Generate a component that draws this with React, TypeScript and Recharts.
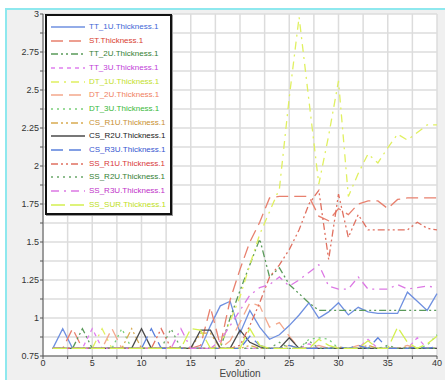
import React from 'react';
import { LineChart, Line, XAxis, YAxis, CartesianGrid, Legend } from 'recharts';

const evolution = [1, 2, 3, 4, 5, 6, 7, 8, 9, 10, 11, 12, 13, 14, 15, 16, 17, 18, 19, 20, 21, 22, 23, 24, 25, 26, 27, 28, 29, 30, 31, 32, 33, 34, 35, 36, 37, 38, 39, 40];

const tt1u = [0.8, 0.93, 0.8, 0.8, 0.8, 0.8, 0.8, 0.8, 0.8, 0.8, 0.8, 0.8, 0.8, 0.8, 0.8, 0.8, 0.95, 1.08, 1.11, 0.9, 1.05, 0.94, 0.86, 0.89, 0.95, 1.02, 1.1, 1.0, 1.04, 1.1, 1.02, 1.07, 1.04, 1.03, 1.03, 1.03, 1.17, 1.11, 1.05, 1.16];
const st = [0.8, 0.8, 0.93, 0.8, 0.8, 0.8, 0.8, 0.8, 0.8, 0.8, 0.8, 0.8, 0.8, 0.8, 0.8, 0.82, 1.07, 0.82, 1.12, 1.32, 1.5, 1.63, 1.79, 1.8, 1.8, 1.8, 1.8, 1.67, 1.64, 1.72, 1.68, 1.75, 1.77, 1.77, 1.72, 1.78, 1.79, 1.79, 1.79, 1.79];
const tt2u = [0.8, 0.8, 0.8, 0.93, 0.8, 0.8, 0.8, 0.8, 0.8, 0.8, 0.8, 0.8, 0.8, 0.8, 0.8, 0.8, 0.8, 0.8, 1.0, 1.18, 1.35, 1.52, 1.27, 1.33, 1.22, 1.16, 1.1, 1.05, 1.05, 1.05, 1.05, 1.05, 1.05, 1.05, 1.05, 1.05, 1.05, 1.05, 1.05, 1.05];
const tt3u = [0.8, 0.8, 0.8, 0.8, 0.93, 0.8, 0.8, 0.8, 0.8, 0.8, 0.8, 0.8, 0.8, 0.8, 0.8, 0.8, 0.8, 0.8, 0.8, 0.8, 0.8, 0.8, 0.8, 0.8, 0.8, 0.8, 0.83, 0.8, 0.8, 0.8, 0.8, 0.8, 0.86, 0.8, 0.8, 0.8, 0.8, 0.87, 0.8, 0.8];
const dt1u = [0.8, 0.8, 0.8, 0.8, 0.8, 0.93, 0.8, 0.8, 0.8, 0.8, 0.8, 0.8, 0.8, 0.8, 0.8, 0.8, 0.8, 0.82, 0.98, 1.14, 1.35, 1.55, 1.7, 1.85, 2.45, 2.98, 2.43, 1.88, 2.2, 2.56, 1.8, 1.95, 2.08, 2.02, 2.12, 2.21, 2.17, 2.22, 2.27, 2.27];
const dt2u = [0.8, 0.8, 0.8, 0.8, 0.8, 0.8, 0.93, 0.8, 0.8, 0.8, 0.8, 0.8, 0.8, 0.8, 0.8, 0.8, 0.8, 0.8, 0.85, 0.97, 1.1, 1.08, 0.94, 0.97, 0.88, 0.8, 0.8, 0.82, 0.8, 0.8, 0.8, 0.82, 0.8, 0.8, 0.8, 0.8, 0.82, 0.8, 0.8, 0.8];
const dt3u = [0.8, 0.8, 0.8, 0.8, 0.8, 0.8, 0.8, 0.93, 0.8, 0.8, 0.8, 0.8, 0.8, 0.8, 0.8, 0.8, 0.8, 0.8, 0.8, 0.8, 0.8, 0.8, 0.8, 0.8, 0.8, 0.8, 0.86, 0.87, 0.86, 0.8, 0.8, 0.8, 0.8, 0.8, 0.8, 0.8, 0.8, 0.8, 0.82, 0.89];
const csr1u = [0.8, 0.8, 0.8, 0.8, 0.8, 0.8, 0.8, 0.8, 0.93, 0.8, 0.8, 0.8, 0.8, 0.8, 0.8, 0.9, 0.9, 0.8, 0.8, 0.8, 0.82, 0.8, 0.8, 0.8, 0.82, 0.8, 0.8, 0.8, 0.8, 0.81, 0.8, 0.8, 0.82, 0.8, 0.8, 0.8, 0.81, 0.8, 0.8, 0.8];
const csr2u = [0.8, 0.8, 0.8, 0.8, 0.8, 0.8, 0.8, 0.8, 0.8, 0.93, 0.8, 0.8, 0.8, 0.8, 0.8, 0.92, 0.92, 0.8, 0.8, 0.92, 0.84, 0.81, 0.8, 0.8, 0.87, 0.8, 0.8, 0.8, 0.8, 0.8, 0.8, 0.8, 0.8, 0.8, 0.8, 0.8, 0.8, 0.8, 0.8, 0.8];
const csr3u = [0.8, 0.8, 0.8, 0.8, 0.8, 0.8, 0.8, 0.8, 0.8, 0.8, 0.93, 0.8, 0.8, 0.8, 0.8, 0.8, 0.8, 0.8, 0.8, 0.8, 0.88, 0.82, 0.8, 0.8, 0.82, 0.8, 0.8, 0.8, 0.8, 0.81, 0.8, 0.82, 0.8, 0.87, 0.8, 0.8, 0.8, 0.81, 0.8, 0.81];
const ssr1u = [0.8, 0.8, 0.8, 0.8, 0.8, 0.8, 0.8, 0.8, 0.8, 0.8, 0.8, 0.93, 0.8, 0.8, 0.8, 0.8, 0.8, 0.8, 0.8, 0.82, 0.95, 1.1, 1.27, 1.35, 1.45, 1.58, 1.75, 1.84, 1.385, 1.815, 1.53, 1.68, 1.58, 1.58, 1.58, 1.58, 1.58, 1.63, 1.59, 1.58];
const ssr2u = [0.8, 0.8, 0.8, 0.8, 0.8, 0.8, 0.8, 0.8, 0.8, 0.8, 0.8, 0.8, 0.93, 0.8, 0.8, 0.8, 0.8, 0.8, 0.8, 0.8, 0.8, 0.8, 0.8, 0.84, 0.8, 0.8, 0.85, 0.8, 0.8, 0.8, 0.8, 0.8, 0.8, 0.8, 0.82, 0.8, 0.8, 0.8, 0.8, 0.8];
const ssr3u = [0.8, 0.8, 0.8, 0.8, 0.8, 0.8, 0.8, 0.8, 0.8, 0.8, 0.8, 0.8, 0.8, 0.93, 0.8, 0.8, 0.8, 0.85, 0.95, 1.05, 1.15, 1.2, 1.22, 1.27, 1.21, 1.25, 1.3, 1.35, 1.21, 1.19, 1.19, 1.27, 1.19, 1.19, 1.19, 1.22, 1.19, 1.2, 1.21, 1.2];
const sssur = [0.8, 0.8, 0.8, 0.8, 0.8, 0.8, 0.8, 0.8, 0.8, 0.8, 0.8, 0.8, 0.8, 0.8, 0.93, 0.92, 0.8, 0.8, 0.8, 0.8, 0.93, 0.82, 0.8, 0.8, 0.8, 0.8, 0.8, 0.86, 0.82, 0.8, 0.8, 0.8, 0.85, 0.8, 0.8, 0.94, 0.84, 0.8, 0.83, 0.88];

const xTicks = [0, 2.5, 5, 7.5, 10, 12.5, 15, 17.5, 20, 22.5, 25, 27.5, 30, 32.5, 35, 37.5, 40];
const yTicks = [0.75, 0.875, 1, 1.125, 1.25, 1.375, 1.5, 1.625, 1.75, 1.875, 2, 2.125, 2.25, 2.375, 2.5, 2.625, 2.75, 2.875, 3];

const series = [
  { key: 'TT_1U', name: 'TT_1U.Thickness.1', values: tt1u, color: '#6f90e0', text: '#3d66d6', dash: undefined },
  { key: 'ST', name: 'ST.Thickness.1', values: st, color: '#e8806e', text: '#d84030', dash: '12 6' },
  { key: 'TT_2U', name: 'TT_2U.Thickness.1', values: tt2u, color: '#5a9a5a', text: '#338033', dash: '7 3 2 3 2 3' },
  { key: 'TT_3U', name: 'TT_3U.Thickness.1', values: tt3u, color: '#e080ee', text: '#c040d8', dash: '4 4' },
  { key: 'DT_1U', name: 'DT_1U.Thickness.1', values: dt1u, color: '#e0f060', text: '#c4e02a', dash: '8 5 2 5' },
  { key: 'DT_2U', name: 'DT_2U.Thickness.1', values: dt2u, color: '#f4a88c', text: '#f08060', dash: '12 6' },
  { key: 'DT_3U', name: 'DT_3U.Thickness.1', values: dt3u, color: '#7ad07a', text: '#38b838', dash: '2 4' },
  { key: 'CS_R1U', name: 'CS_R1U.Thickness.1', values: csr1u, color: '#d8aa50', text: '#c89030', dash: '7 3 2 3 2 3' },
  { key: 'CS_R2U', name: 'CS_R2U.Thickness.1', values: csr2u, color: '#4a4a4a', text: '#202020', dash: undefined },
  { key: 'CS_R3U', name: 'CS_R3U.Thickness.1', values: csr3u, color: '#5a80dc', text: '#3555d0', dash: '12 6' },
  { key: 'SS_R1U', name: 'SS_R1U.Thickness.1', values: ssr1u, color: '#e07060', text: '#d83838', dash: '7 3 2 3 2 3' },
  { key: 'SS_R2U', name: 'SS_R2U.Thickness.1', values: ssr2u, color: '#6aa86a', text: '#338033', dash: '2 4' },
  { key: 'SS_R3U', name: 'SS_R3U.Thickness.1', values: ssr3u, color: '#dc78e4', text: '#c030c8', dash: '8 5 2 5' },
  { key: 'SS_SUR', name: 'SS_SUR.Thickness.1', values: sssur, color: '#d4f050', text: '#bede20', dash: '14 5' },
];

const data = evolution.map((x, i) => {
  const row: Record<string, number> = { x };
  series.forEach((s) => {
    row[s.key] = s.values[i];
  });
  return row;
});

const fmtY = (v: number) => (Math.abs(v * 4 - Math.round(v * 4)) < 1e-6 ? String(v) : '');
const fmtX = (v: number) => (v % 5 === 0 ? String(v) : '');

const LegendBox = () => (
  <div
    style={{
      border: '2px solid #111',
      boxShadow: '1px 1px 0 #999',
      background: '#fff',
      padding: '4px 0 1px 0',
      width: 127,
      boxSizing: 'border-box',
      fontFamily: '"Liberation Sans", Arial, sans-serif',
      fontSize: 8,
    }}
  >
    {series.map((s) => (
      <div key={s.key} style={{ height: 13.7, display: 'flex', alignItems: 'center' }}>
        <svg width={42} height={6} style={{ display: 'block', flex: 'none' }}>
          <line x1={4} y1={3} x2={38} y2={3} stroke={s.color} strokeWidth={1.3} strokeDasharray={s.dash} />
        </svg>
        <span style={{ color: s.text, whiteSpace: 'nowrap', lineHeight: '10px' }}>{s.name}</span>
      </div>
    ))}
  </div>
);

export default function App() {
  return (
    <div style={{ position: 'absolute', left: 0, top: 0, width: 445, height: 380, background: '#fff', overflow: 'hidden' }}>
      <div
        style={{
          position: 'absolute',
          left: 5,
          top: 8,
          width: 445 - 5 - 2,
          height: 380,
          background: '#f0f0f0',
          borderLeft: '2px solid #8ee8ee',
          borderTop: '2px solid #8ee8ee',
          borderRight: '2px solid #8ee8ee',
        }}
      />
      <div style={{ position: 'absolute', left: 0, top: 0 }}>
        <LineChart width={445} height={380} data={data} margin={{ top: 14, right: 8, left: 0, bottom: 0 }}>
          <CartesianGrid stroke="#dcdcdc" strokeWidth={1.5} fill="#ffffff" verticalValues={xTicks} horizontalValues={yTicks} />
          <XAxis
            dataKey="x"
            type="number"
            domain={[0, 40]}
            ticks={xTicks}
            tickFormatter={fmtX}
            interval={0}
            height={24}
            tickSize={3}
            tickMargin={1}
            stroke="#555"
            tick={{ fontSize: 9, fill: '#333', fontFamily: '"Liberation Sans", Arial, sans-serif' }}
            label={{ value: 'Evolution', position: 'insideBottom', offset: 3, fontSize: 10, fill: '#444', fontFamily: '"Liberation Sans", Arial, sans-serif' }}
          />
          <XAxis xAxisId="top" orientation="top" dataKey="x" type="number" domain={[0, 40]} height={0} tick={false} tickLine={false} stroke="#666" />
          <YAxis
            type="number"
            domain={[0.75, 3]}
            ticks={yTicks}
            tickFormatter={fmtY}
            interval={0}
            width={43}
            tickSize={3}
            tickMargin={1}
            stroke="#555"
            tick={{ fontSize: 9, fill: '#333', fontFamily: '"Liberation Sans", Arial, sans-serif' }}
          />
          <YAxis yAxisId="right" orientation="right" type="number" domain={[0.75, 3]} width={0} tick={false} tickLine={false} stroke="#666" />
          {series.map((s) => (
            <Line
              key={s.key}
              dataKey={s.key}
              name={s.name}
              stroke={s.color}
              strokeWidth={1.3}
              strokeDasharray={s.dash}
              dot={false}
              activeDot={false}
              isAnimationActive={false}
            />
          ))}
          <Legend
            layout="horizontal"
            verticalAlign="middle"
            align="center"
            wrapperStyle={{ left: 45, top: 14, width: 127 }}
            content={() => <LegendBox />}
          />
        </LineChart>
      </div>
    </div>
  );
}
